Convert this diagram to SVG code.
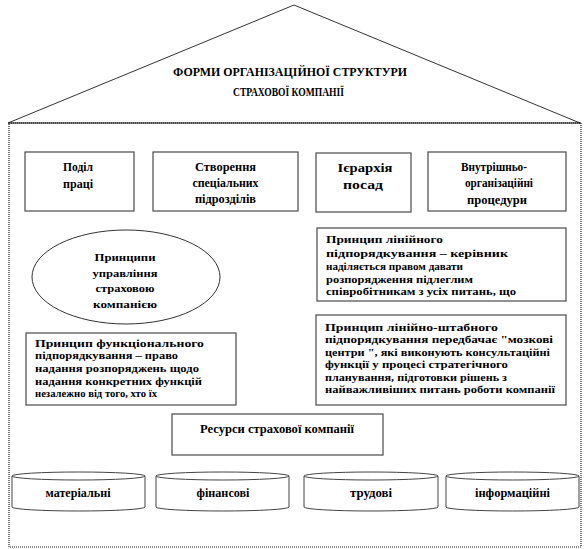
<svg xmlns="http://www.w3.org/2000/svg" width="587" height="549" viewBox="0 0 587 549" font-family="Liberation Serif, Times New Roman, serif" font-weight="bold">
<style>
text{font-family:"Liberation Serif","Times New Roman",serif;font-weight:bold;fill:#000;}
.t{font-size:12px;}
.p{font-size:11px;}
.c{text-anchor:middle;}
.ttl{font-size:12.5px;}
.box{fill:#fff;stroke:#4a4a4a;stroke-width:1.2;}
.frame{fill:none;stroke:#222;stroke-width:1.2;stroke-dasharray:1 1;}
.cyl{fill:#fff;stroke:#444;stroke-width:1;}
</style>
<rect width="587" height="549" fill="#fff"/>
<g id="roof">
<polyline points="8,123 294,5 580,123" fill="none" stroke="#333" stroke-width="1"/>
<text class="ttl c" x="290" y="76" textLength="234" lengthAdjust="spacingAndGlyphs">ФОРМИ ОРГАНІЗАЦІЙНОЇ  СТРУКТУРИ</text>
<text class="ttl c" x="288.5" y="96" textLength="111" lengthAdjust="spacingAndGlyphs">СТРАХОВОЇ  КОМПАНІЇ</text>
</g>
<g id="frame">
<rect class="frame" x="9" y="123" width="572" height="424"/>
<line x1="8" y1="123" x2="581" y2="123" stroke="#000" stroke-width="1.2"/>
</g>
<g id="connectors"></g>
<g id="podil">
<rect class="box" x="25" y="152" width="109" height="59"/>
<text class="t c" x="78" y="171" textLength="30" lengthAdjust="spacingAndGlyphs">Поділ</text>
<text class="t c" x="78" y="188" textLength="30" lengthAdjust="spacingAndGlyphs">праці</text>
</g>
<g id="stvorennia">
<rect class="box" x="153" y="152" width="145" height="59"/>
<text class="t c" x="225.5" y="171" textLength="61" lengthAdjust="spacingAndGlyphs">Створення</text>
<text class="t c" x="225.5" y="187" textLength="66" lengthAdjust="spacingAndGlyphs">спеціальних</text>
<text class="t c" x="225.5" y="203" textLength="61" lengthAdjust="spacingAndGlyphs">підрозділів</text>
</g>
<g id="ierarkhiia">
<rect class="box" x="316" y="153" width="95" height="59"/>
<text class="t c" x="365" y="172" textLength="55" lengthAdjust="spacingAndGlyphs">Ієрархія</text>
<text class="t c" x="363" y="189" textLength="40" lengthAdjust="spacingAndGlyphs">посад</text>
</g>
<g id="protsedury">
<rect class="box" x="428" y="152" width="138" height="59"/>
<text class="t c" x="494" y="171" textLength="66" lengthAdjust="spacingAndGlyphs">Внутрішньо-</text>
<text class="t c" x="499" y="187" textLength="68" lengthAdjust="spacingAndGlyphs">організаційні</text>
<text class="t c" x="497" y="204" textLength="60" lengthAdjust="spacingAndGlyphs">процедури</text>
</g>
<g id="pryntsypy">
<ellipse cx="126" cy="277" rx="94" ry="47" fill="#fff" stroke="#333" stroke-width="1"/>
<text class="p c" x="125" y="261" textLength="61" lengthAdjust="spacingAndGlyphs">Принципи</text>
<text class="p c" x="125" y="277" textLength="65" lengthAdjust="spacingAndGlyphs">управління</text>
<text class="p c" x="125" y="292" textLength="59" lengthAdjust="spacingAndGlyphs">страховою</text>
<text class="p c" x="125" y="308" textLength="64" lengthAdjust="spacingAndGlyphs">компанією</text>
</g>
<g id="liniine">
<rect class="box" x="317" y="228" width="249" height="73"/>
<text class="p" x="326" y="243" textLength="117" lengthAdjust="spacingAndGlyphs">Принцип  лінійного</text>
<text class="p" x="326" y="257" textLength="182" lengthAdjust="spacingAndGlyphs">підпорядкування  – керівник</text>
<text class="p" x="326" y="270" textLength="137" lengthAdjust="spacingAndGlyphs">наділяється правом давати</text>
<text class="p" x="326" y="283" textLength="147" lengthAdjust="spacingAndGlyphs">розпорядження підлеглим</text>
<text class="p" x="326" y="295" textLength="190" lengthAdjust="spacingAndGlyphs">співробітникам з усіх питань, що</text>
</g>
<g id="funktsionalne">
<rect class="box" x="26" y="333" width="210" height="72"/>
<text class="p" x="35" y="347" textLength="169" lengthAdjust="spacingAndGlyphs">Принцип  функціонального</text>
<text class="p" x="35" y="359" textLength="143" lengthAdjust="spacingAndGlyphs">підпорядкування  – право</text>
<text class="p" x="35" y="372" textLength="164" lengthAdjust="spacingAndGlyphs">надання розпоряджень щодо</text>
<text class="p" x="35" y="385" textLength="167" lengthAdjust="spacingAndGlyphs">надання конкретних  функцій</text>
<text class="p" x="35" y="397" textLength="122" lengthAdjust="spacingAndGlyphs">незалежно від того, хто їх</text>
</g>
<g id="shtabne">
<rect class="box" x="316" y="315" width="250" height="90"/>
<text class="p" x="325" y="331" textLength="173" lengthAdjust="spacingAndGlyphs">Принцип  лінійно-штабного</text>
<text class="p" x="325" y="343" textLength="228" lengthAdjust="spacingAndGlyphs">підпорядкування  передбачає "мозкові</text>
<text class="p" x="325" y="356" textLength="225" lengthAdjust="spacingAndGlyphs">центри ", які виконують консультаційні</text>
<text class="p" x="325" y="368" textLength="183" lengthAdjust="spacingAndGlyphs">функції у процесі стратегічного</text>
<text class="p" x="325" y="381" textLength="182" lengthAdjust="spacingAndGlyphs">планування, підготовки рішень з</text>
<text class="p" x="325" y="393" textLength="230" lengthAdjust="spacingAndGlyphs">найважливіших  питань роботи компанії</text>
</g>
<g id="resursy">
<rect class="box" x="172" y="414" width="211" height="41"/>
<text class="t c" x="277" y="433" textLength="154" lengthAdjust="spacingAndGlyphs">Ресурси страхової  компанії</text>
</g>
<g id="materialni">
<path class="cyl" d="M12,476 L12,507 A66.5,4 0 0 0 145,507 L145,476"/>
<ellipse class="cyl" cx="78.5" cy="476" rx="66.5" ry="4"/>
<text class="t c" x="78" y="497" textLength="65" lengthAdjust="spacingAndGlyphs">матеріальні</text>
</g>
<g id="finansovi">
<path class="cyl" d="M156,476 L156,507 A66.5,4 0 0 0 289,507 L289,476"/>
<ellipse class="cyl" cx="222.5" cy="476" rx="66.5" ry="4"/>
<text class="t c" x="223" y="497" textLength="53" lengthAdjust="spacingAndGlyphs">фінансові</text>
</g>
<g id="trudovi">
<path class="cyl" d="M304,476 L304,507 A67,4 0 0 0 438,507 L438,476"/>
<ellipse class="cyl" cx="371" cy="476" rx="67" ry="4"/>
<text class="t c" x="371" y="497" textLength="42" lengthAdjust="spacingAndGlyphs">трудові</text>
</g>
<g id="informatsiini">
<path class="cyl" d="M446,476 L446,507 A66.5,4 0 0 0 579,507 L579,476"/>
<ellipse class="cyl" cx="512.5" cy="476" rx="66.5" ry="4"/>
<text class="t c" x="512.5" y="497" textLength="75" lengthAdjust="spacingAndGlyphs">інформаційні</text>
</g>
</svg>
